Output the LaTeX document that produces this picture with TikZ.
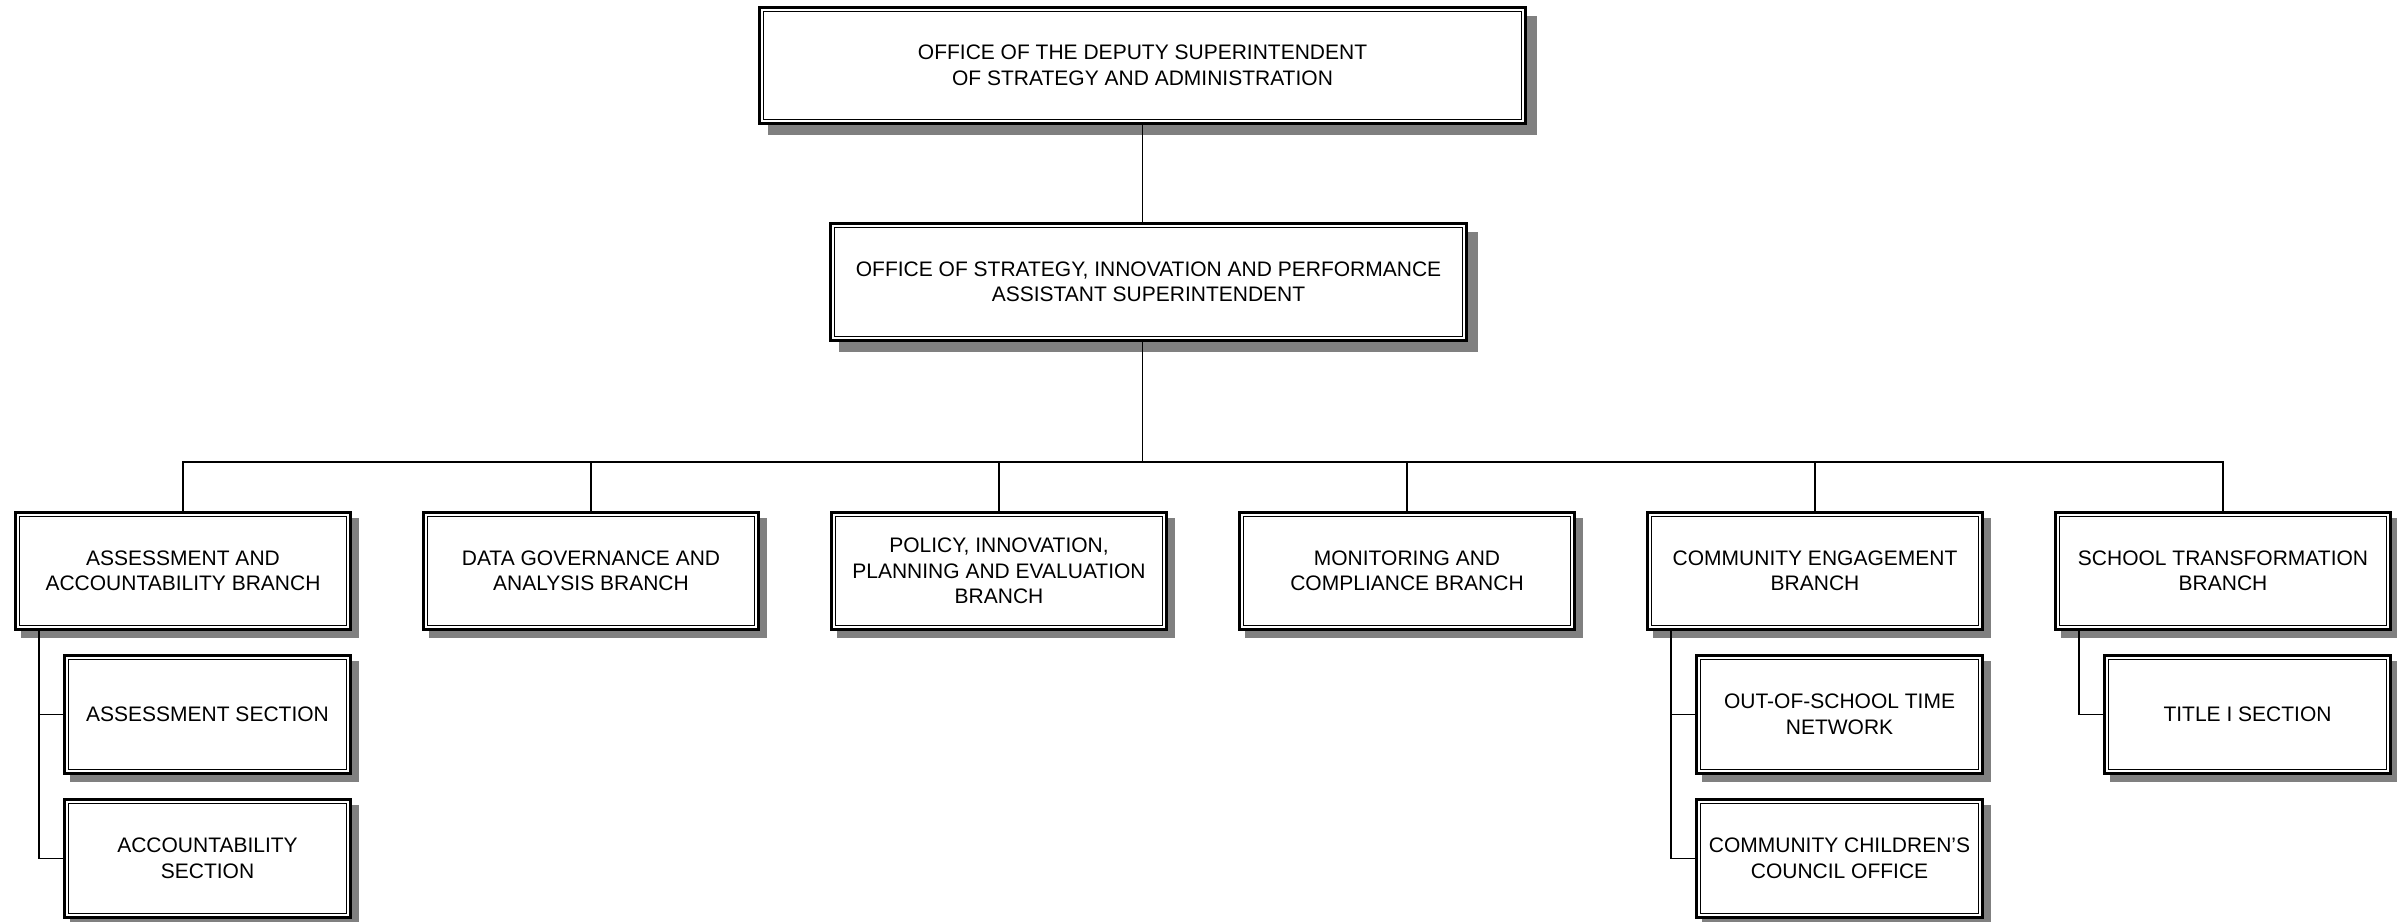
\documentclass[tikz,border=0pt]{standalone}
\usepackage{fontspec}
\setmainfont{Liberation Sans}
\usepackage{tikz}
\usetikzlibrary{backgrounds,positioning}
\definecolor{ShadowGray}{RGB}{128,128,128}

\begin{document}
\begin{tikzpicture}[
    x=1pt, y=1pt,
    node distance=70pt,
    box/.style={
      fill=white,
      draw,
      line width=1.3pt,
      preaction={draw, line width=11.3pt},
      preaction={draw=white, line width=5.3pt},
      outer sep=5.65pt,
      inner sep=2pt,
      align=center,
      font=\fontsize{21}{25.5}\selectfont,
      minimum width=326.7pt,
      minimum height=108.7pt
    },
    topbox/.style={box, minimum height=107.7pt},
    subbox/.style={box, minimum width=277.7pt, minimum height=109.7pt},
    link/.style={line width=1.6pt}
  ]
    \useasboundingbox (0,0) rectangle (2397,-921);

    \node[topbox, minimum width=757.7pt] (dep) at (1142.5,-65.5)
      {OFFICE OF THE DEPUTY SUPERINTENDENT\\OF STRATEGY AND ADMINISTRATION};
    \node[box, minimum width=627.7pt, below=97pt of dep, xshift=6pt] (osip)
      {OFFICE OF STRATEGY, INNOVATION AND PERFORMANCE\\ASSISTANT SUPERINTENDENT};

    \node[box] (ab) at (183,-571) {ASSESSMENT AND\\ACCOUNTABILITY BRANCH};
    \node[box, right=of ab] (dg) {DATA GOVERNANCE AND\\ANALYSIS BRANCH};
    \node[box, right=of dg] (pi)
      {POLICY, INNOVATION,\\PLANNING AND EVALUATION\\BRANCH};
    \node[box, right=of pi] (mc) {MONITORING AND\\COMPLIANCE BRANCH};
    \node[box, right=of mc] (ce) {COMMUNITY ENGAGEMENT\\BRANCH};
    \node[box, right=of ce] (st) {SCHOOL TRANSFORMATION\\BRANCH};

    \node[subbox, below=23pt of ab.south east, anchor=north east] (as)
      {ASSESSMENT SECTION};
    \node[subbox, below=23pt of as] (ac) {ACCOUNTABILITY\\SECTION};
    \node[subbox, below=23pt of ce.south east, anchor=north east] (ost)
      {OUT-OF-SCHOOL TIME\\NETWORK};
    \node[subbox, below=23pt of ost] (ccc)
      {COMMUNITY CHILDREN’S\\COUNCIL OFFICE};
    \node[subbox, below=23pt of st.south east, anchor=north east] (title)
      {TITLE I SECTION};

    % shadows behind the boxes
    \begin{scope}[on background layer]
      \foreach \n in {dep, osip}
        \fill[ShadowGray] ([shift={(10,-10)}]\n.south west)
          rectangle ([shift={(10,-10)}]\n.north east);
      \foreach \n in {ab, dg, pi, mc, ce, st, as, ac, ost, ccc, title}
        \fill[ShadowGray] ([shift={(6.5,-6.5)}]\n.south west)
          rectangle ([shift={(6.5,-6.5)}]\n.north east);
    \end{scope}

    \draw[link] (dep.south) -- (dep.south |- osip.north);
    \foreach \b in {ab, dg, pi, mc, ce, st}
      \draw[link] (\b.north) -- ++(0,49) -| (dep.south |- osip.south);

    \draw[link] (ab.south west) ++(25,0) |- (as.west);
    \draw[link] (ab.south west) ++(25,0) |- (ac.west);
    \draw[link] (ce.south west) ++(25,0) |- (ost.west);
    \draw[link] (ce.south west) ++(25,0) |- (ccc.west);
    \draw[link] (st.south west) ++(25,0) |- (title.west);
  \end{tikzpicture}
\end{document}
